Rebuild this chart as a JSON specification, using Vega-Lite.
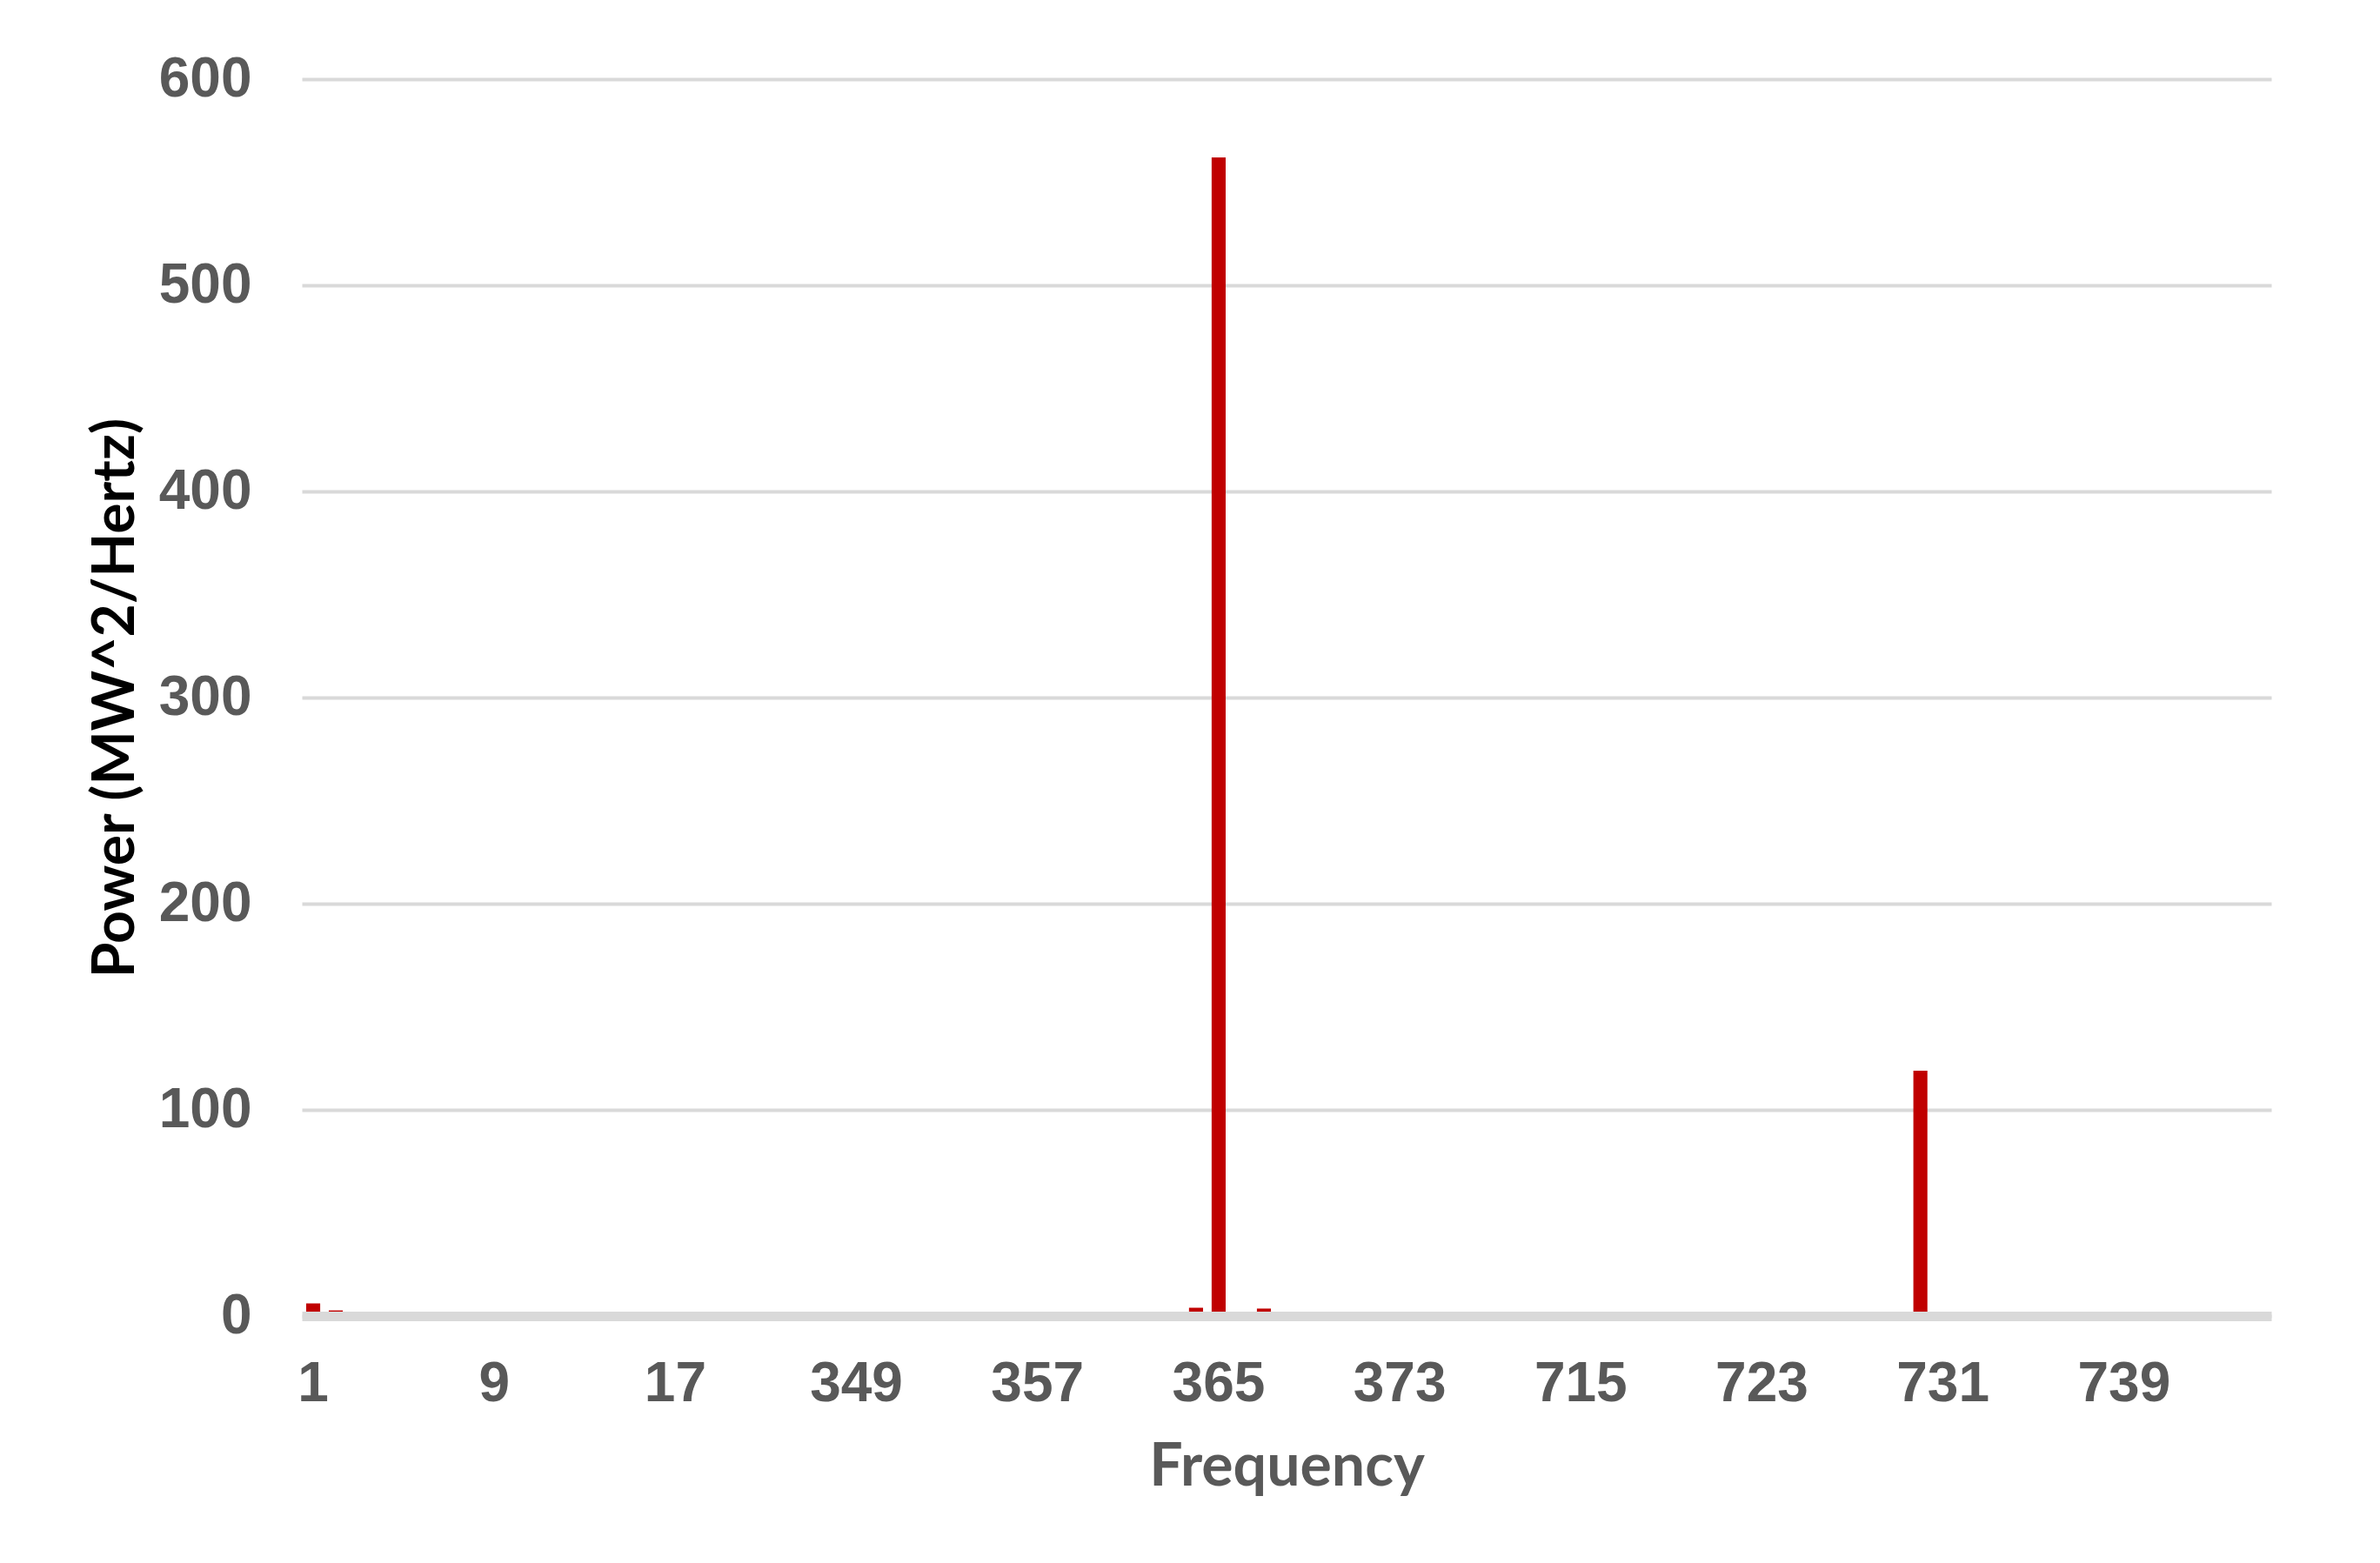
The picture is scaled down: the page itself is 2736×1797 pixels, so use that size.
{
  "$schema": "https://vega.github.io/schema/vega-lite/v6.json",
  "width": 2264,
  "height": 1422,
  "autosize": {"type": "none"},
  "padding": {"left": 347, "top": 91, "right": 125, "bottom": 284},
  "background": "#ffffff",
  "config": {"view": {"stroke": null}},
  "data": {
    "values": [
      {"freq": 1, "power": 6.1}, {"freq": 2, "power": 2.7}, {"freq": 3, "power": 0}, {"freq": 4, "power": 0},
      {"freq": 5, "power": 0}, {"freq": 6, "power": 0}, {"freq": 7, "power": 0}, {"freq": 8, "power": 0},
      {"freq": 9, "power": 0}, {"freq": 10, "power": 0}, {"freq": 11, "power": 0}, {"freq": 12, "power": 0},
      {"freq": 13, "power": 0}, {"freq": 14, "power": 0}, {"freq": 15, "power": 0}, {"freq": 16, "power": 0},
      {"freq": 17, "power": 0}, {"freq": 18, "power": 0}, {"freq": 19, "power": 0}, {"freq": 20, "power": 0},
      {"freq": 21, "power": 0}, {"freq": 22, "power": 0}, {"freq": 23, "power": 0}, {"freq": 24, "power": 0},
      {"freq": 349, "power": 0}, {"freq": 350, "power": 0}, {"freq": 351, "power": 0}, {"freq": 352, "power": 0},
      {"freq": 353, "power": 0}, {"freq": 354, "power": 0}, {"freq": 355, "power": 0}, {"freq": 356, "power": 0},
      {"freq": 357, "power": 0}, {"freq": 358, "power": 0}, {"freq": 359, "power": 0}, {"freq": 360, "power": 0},
      {"freq": 361, "power": 0}, {"freq": 362, "power": 0}, {"freq": 363, "power": 0}, {"freq": 364, "power": 4.0},
      {"freq": 365, "power": 562}, {"freq": 366, "power": 0}, {"freq": 367, "power": 3.6}, {"freq": 368, "power": 0},
      {"freq": 369, "power": 0}, {"freq": 370, "power": 0}, {"freq": 371, "power": 0}, {"freq": 372, "power": 0},
      {"freq": 373, "power": 0}, {"freq": 374, "power": 0}, {"freq": 375, "power": 0}, {"freq": 376, "power": 0},
      {"freq": 377, "power": 0}, {"freq": 378, "power": 0}, {"freq": 379, "power": 0}, {"freq": 380, "power": 0},
      {"freq": 715, "power": 0}, {"freq": 716, "power": 0}, {"freq": 717, "power": 0}, {"freq": 718, "power": 0},
      {"freq": 719, "power": 0}, {"freq": 720, "power": 0}, {"freq": 721, "power": 0}, {"freq": 722, "power": 0},
      {"freq": 723, "power": 0}, {"freq": 724, "power": 0}, {"freq": 725, "power": 0}, {"freq": 726, "power": 0},
      {"freq": 727, "power": 0}, {"freq": 728, "power": 0}, {"freq": 729, "power": 0}, {"freq": 730, "power": 119},
      {"freq": 731, "power": 0}, {"freq": 732, "power": 0}, {"freq": 733, "power": 0}, {"freq": 734, "power": 0},
      {"freq": 735, "power": 0}, {"freq": 736, "power": 0}, {"freq": 737, "power": 0}, {"freq": 738, "power": 0},
      {"freq": 739, "power": 0}, {"freq": 740, "power": 0}, {"freq": 741, "power": 0}, {"freq": 742, "power": 0},
      {"freq": 743, "power": 0}, {"freq": 744, "power": 0}, {"freq": 745, "power": 0}
    ]
  },
  "mark": {"type": "bar", "color": "#C00000"},
  "encoding": {
    "x": {
      "field": "freq",
      "type": "ordinal",
      "sort": "ascending",
      "scale": {"paddingInner": 0.38, "paddingOuter": 0.19},
      "axis": {
        "title": "Frequency",
        "values": [1, 9, 17, 349, 357, 365, 373, 715, 723, 731, 739],
        "labelAngle": 0,
        "labelFont": "Liberation Sans",
        "labelFontWeight": "bold",
        "labelFontSize": 64,
        "labelColor": "#595959",
        "labelPadding": 46,
        "ticks": false,
        "tickSize": 0,
        "domain": true,
        "domainColor": "#D9D9D9",
        "domainWidth": 11,
        "grid": false,
        "titleFont": "Lato",
        "titleFontWeight": "bold",
        "titleFontSize": 68,
        "titleColor": "#595959",
        "titlePadding": 30,
        "zindex": 1
      }
    },
    "y": {
      "field": "power",
      "type": "quantitative",
      "scale": {"domain": [0, 600], "nice": false},
      "axis": {
        "title": "Power (MW^2/Hertz)",
        "values": [0, 100, 200, 300, 400, 500, 600],
        "labelFont": "Liberation Sans",
        "labelFontWeight": "bold",
        "labelFontSize": 64,
        "labelColor": "#595959",
        "labelPadding": 58,
        "ticks": false,
        "tickSize": 0,
        "domain": false,
        "grid": true,
        "gridColor": "#D9D9D9",
        "gridWidth": 4,
        "titleFont": "Lato",
        "titleFontWeight": "bold",
        "titleFontSize": 66,
        "titleColor": "#000000",
        "titlePadding": 15,
        "zindex": 0
      }
    }
  }
}
